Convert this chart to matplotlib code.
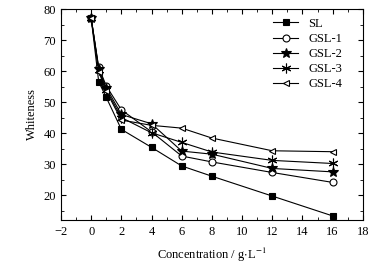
import numpy as np
import matplotlib.pyplot as plt
from matplotlib.ticker import MultipleLocator

plt.rcParams['font.family'] = ['Liberation Serif', 'DejaVu Serif']
plt.rcParams['mathtext.fontset'] = 'stix'
plt.rcParams['font.size'] = 9

conc = [0, 0.5, 1, 2, 4, 6, 8, 12, 16]
sl = [77, 56.5, 51.5, 41.2, 35.4, 29.4, 26.1, 19.7, 13.3]
gsl1 = [77, 61.2, 55.2, 47.5, 40.4, 32.6, 30.7, 27.3, 24.1]
gsl2 = [77, 60.8, 54.6, 46.0, 43.0, 34.2, 33.2, 28.6, 27.5]
gsl3 = [77, 60.3, 54.0, 45.0, 40.1, 37.0, 33.9, 31.2, 30.2]
gsl4 = [77, 59.8, 53.5, 44.2, 42.5, 41.6, 38.4, 34.3, 34.0]

series = [
    ('SL', sl, dict(marker='s', mfc='black')),
    ('GSL-1', gsl1, dict(marker='o', mfc='white')),
    ('GSL-2', gsl2, dict(marker='*', mfc='black', markersize=7)),
    ('GSL-3', gsl3, dict(marker=(6, 2, 0), mfc='black', markersize=7)),
    ('GSL-4', gsl4, dict(marker='<', mfc='white')),
]

fig = plt.figure(figsize=(3.86, 2.65), dpi=100)
ax = fig.add_axes([0.158, 0.170, 0.782, 0.796])

for name, vals, st in series:
    kw = dict(color='black', lw=0.8, mec='black', mew=0.8, markersize=5)
    kw.update(st)
    ax.plot(conc, vals, label=name, **kw)

ax.set_xlim(-2, 18)
ax.set_ylim(12, 80)
ax.xaxis.set_major_locator(MultipleLocator(2))
ax.xaxis.set_minor_locator(MultipleLocator(1))
ax.yaxis.set_minor_locator(MultipleLocator(5))
ax.set_yticks([20, 30, 40, 50, 60, 70, 80])
ax.tick_params(which='both', direction='in', top=True, right=True, labelsize=9)
ax.tick_params(which='major', length=3.5)
ax.tick_params(which='minor', length=2)
ax.tick_params(axis='x', pad=4)

ax.set_xlabel('Concentration / g$\\cdot$L$^{-1}$', fontsize=9, labelpad=6)
ax.set_ylabel('Whiteness', fontsize=9)

ax.legend(loc='upper right', frameon=False, fontsize=9, handlelength=2.0,
          labelspacing=0.25, borderaxespad=0.3, bbox_to_anchor=(0.96, 1.0))

fig.savefig('out.png', dpi=100)
